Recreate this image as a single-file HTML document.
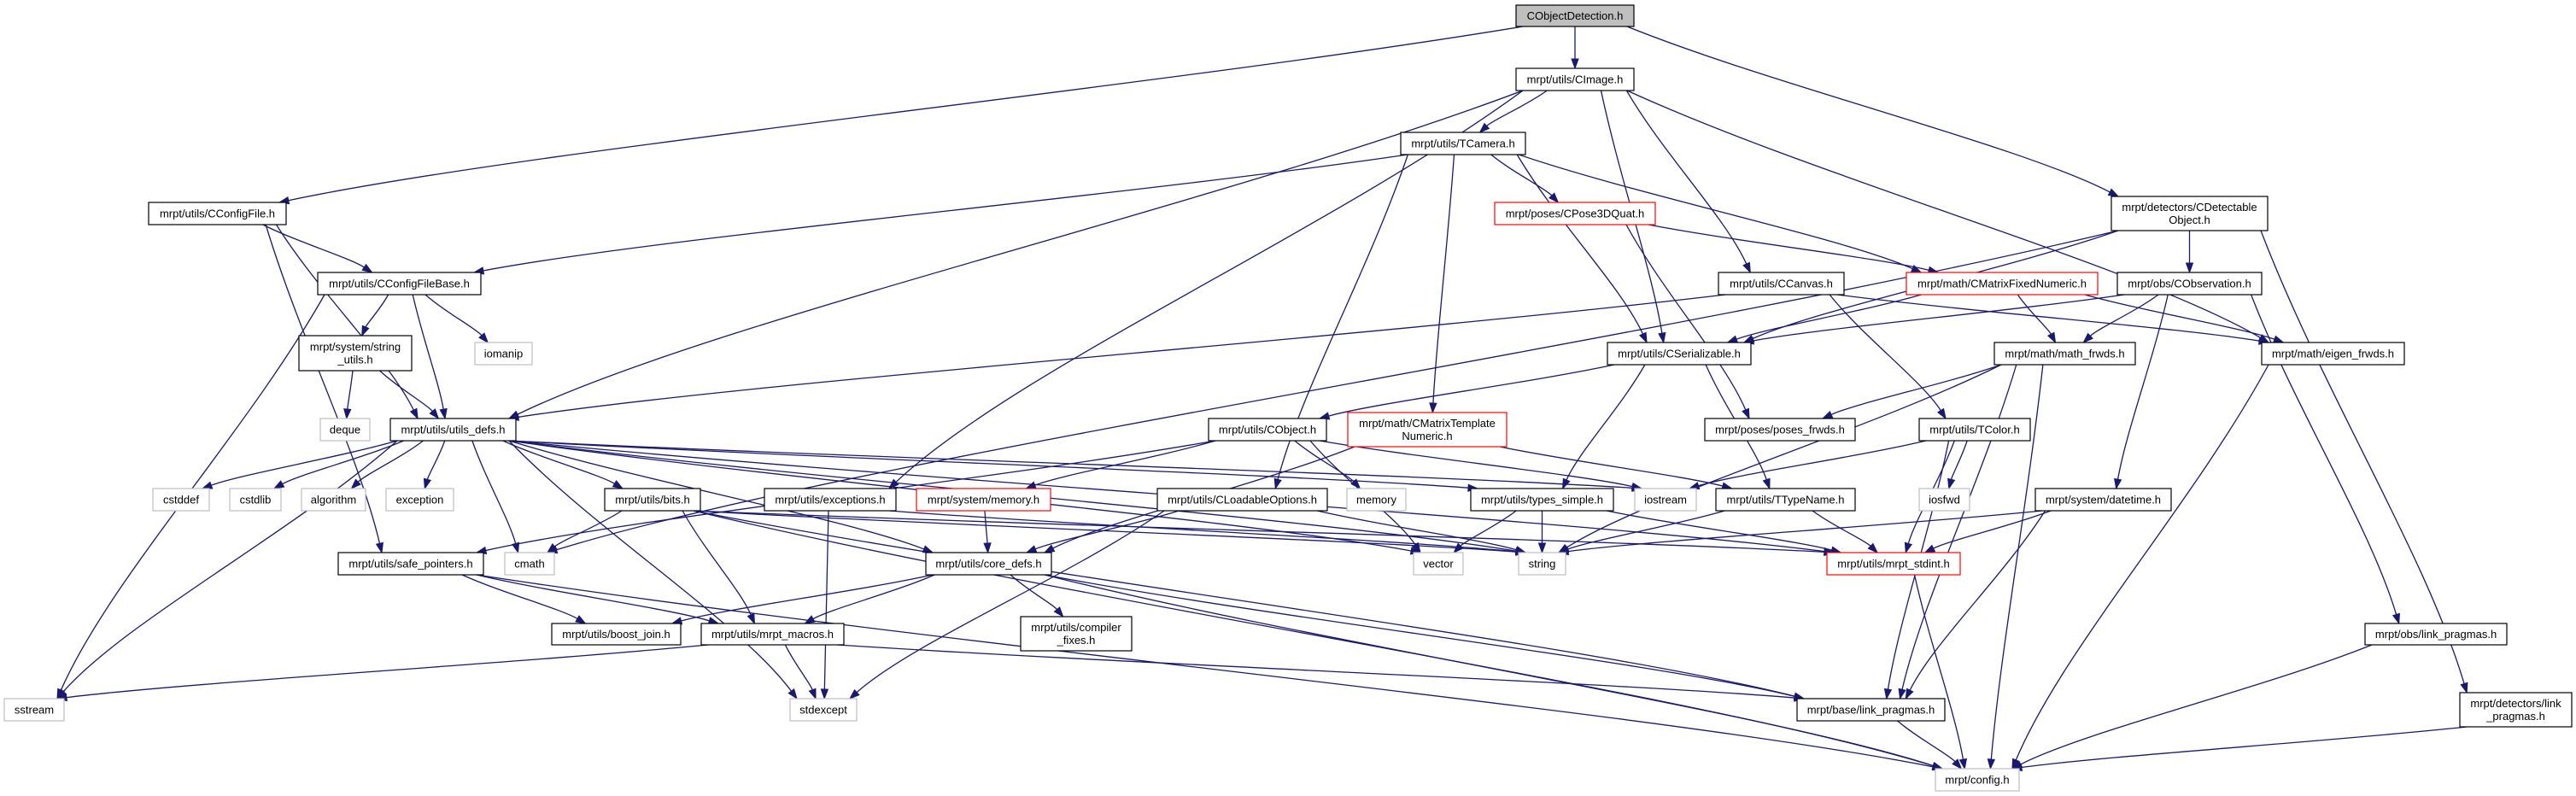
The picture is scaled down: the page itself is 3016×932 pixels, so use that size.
<!DOCTYPE html>
<html><head><meta charset="utf-8"><style>
html,body{margin:0;padding:0;background:#fff;}
svg{display:block;}
text{font-family:"Liberation Sans",Arial,sans-serif;font-size:13px;fill:#000;}
</style></head><body>
<svg id="g" width="3016" height="932" xmlns="http://www.w3.org/2000/svg"></svg>
<script>
var N={
 OD:[1775,6,1913,31,["CObjectDetection.h"],"top"],
 CI:[1775,80,1913,106,["mrpt/utils/CImage.h"]],
 TC:[1640,155,1786,181,["mrpt/utils/TCamera.h"]],
 CF:[174,237,335,263,["mrpt/utils/CConfigFile.h"]],
 PQ:[1750,237,1938,263,["mrpt/poses/CPose3DQuat.h"],"red"],
 DO:[2472,230,2655,270,["mrpt/detectors/CDetectable","Object.h"]],
 CB:[372,319,563,345,["mrpt/utils/CConfigFileBase.h"]],
 CC:[2012,319,2159,345,["mrpt/utils/CCanvas.h"]],
 MF:[2232,319,2456,345,["mrpt/math/CMatrixFixedNumeric.h"],"red"],
 OB:[2479,319,2648,345,["mrpt/obs/CObservation.h"]],
 SU:[350,393,482,434,["mrpt/system/string","_utils.h"]],
 IM:[556,401,623,427,["iomanip"],"gray"],
 CS:[1882,401,2050,427,["mrpt/utils/CSerializable.h"]],
 MW:[2335,401,2500,427,["mrpt/math/math_frwds.h"]],
 EF:[2648,401,2815,427,["mrpt/math/eigen_frwds.h"]],
 DQ:[375,490,433,516,["deque"],"gray"],
 UD:[457,490,604,516,["mrpt/utils/utils_defs.h"]],
 CO:[1415,490,1553,516,["mrpt/utils/CObject.h"]],
 MT:[1578,483,1764,523,["mrpt/math/CMatrixTemplate","Numeric.h"],"red"],
 PF:[1996,490,2172,516,["mrpt/poses/poses_frwds.h"]],
 TO:[2247,490,2377,516,["mrpt/utils/TColor.h"]],
 SD:[179,572,245,598,["cstddef"],"gray"],
 SL:[269,572,329,598,["cstdlib"],"gray"],
 AL:[353,572,428,598,["algorithm"],"gray"],
 EX:[452,572,531,598,["exception"],"gray"],
 BI:[708,572,820,598,["mrpt/utils/bits.h"]],
 EH:[895,572,1049,598,["mrpt/utils/exceptions.h"]],
 MM:[1073,572,1230,598,["mrpt/system/memory.h"],"red"],
 LO:[1355,572,1554,598,["mrpt/utils/CLoadableOptions.h"]],
 ME:[1577,572,1646,598,["memory"],"gray"],
 TS:[1722,572,1889,598,["mrpt/utils/types_simple.h"]],
 IS:[1914,572,1986,598,["iostream"],"gray"],
 TT:[2009,572,2172,598,["mrpt/utils/TTypeName.h"]],
 IF:[2247,572,2306,598,["iosfwd"],"gray"],
 DT:[2383,572,2542,598,["mrpt/system/datetime.h"]],
 SP:[396,647,566,673,["mrpt/utils/safe_pointers.h"]],
 CM:[591,647,649,673,["cmath"],"gray"],
 CD:[1084,647,1231,673,["mrpt/utils/core_defs.h"]],
 VE:[1655,647,1713,673,["vector"],"gray"],
 ST:[1778,647,1833,673,["string"],"gray"],
 SI:[2139,647,2295,673,["mrpt/utils/mrpt_stdint.h"],"red"],
 BJ:[646,730,797,755,["mrpt/utils/boost_join.h"]],
 MA:[821,730,988,755,["mrpt/utils/mrpt_macros.h"]],
 CX:[1195,722,1325,762,["mrpt/utils/compiler","_fixes.h"]],
 OL:[2769,730,2935,755,["mrpt/obs/link_pragmas.h"]],
 SS:[5,818,75,844,["sstream"],"gray"],
 SE:[925,818,1003,844,["stdexcept"],"gray"],
 BL:[2104,818,2277,844,["mrpt/base/link_pragmas.h"]],
 DL:[2880,811,3011,851,["mrpt/detectors/link","_pragmas.h"]],
 CG:[2266,900,2364,926,["mrpt/config.h"],"gray"]
};
var E="OD-CF OD-CI OD-DO CI-TC CI-CS CI-CC CI-EF CI-UD CI-EH CF-CB CF-UD CF-SP CB-SU CB-IM CB-UD CB-SS SU-DQ SU-UD TC-CB TC-PQ TC-CS TC-MF TC-MT TC-LO PQ-MF PQ-PF DO-CS DO-OB DO-CM DO-DL CC-UD CC-TO CC-EF MF-CS MF-MW MF-EF OB-CS OB-MW OB-DT OB-OL CS-CO CS-TS CS-TT MW-PF MW-ST MW-BL MW-CG EF-CG UD-SD UD-SL UD-AL UD-EX UD-CM UD-BI UD-SS UD-SE UD-CD UD-TS UD-IS UD-SI UD-VE UD-ST CO-MM CO-ME CO-VE CO-SP CO-IS MT-CD MT-TT MM-CD LO-CD LO-ST LO-SE EH-ST EH-SE BI-CM BI-MA BI-CG BI-ST BI-SI BI-BL SP-BJ SP-MA SP-CG CD-BJ CD-MA CD-CX CD-BL CD-CG MA-SS MA-SE MA-BL TS-VE TS-ST TS-SI TT-ST TT-SI TO-IF TO-SI TO-IS TO-BL DT-ST DT-SI DT-BL SI-CG BL-CG OL-CG DL-CG".split(" ");
var s="";
function cl(v,a,b){return Math.max(a,Math.min(b,v));}
E.forEach(function(e){
 var p=e.split("-"),a=N[p[0]],b=N[p[1]];
 var acx=(a[0]+a[2])/2,bcx=(b[0]+b[2])/2,acy=(a[1]+a[3])/2,bcy=(b[1]+b[3])/2;
 var x1,y1,x2,y2,c1x,c1y,c2x,c2y;
 if(b[1]>a[3]+5){
  x1=cl(acx+(bcx-acx)*0.25,a[0]+8,a[2]-8);y1=a[3];
  x2=cl(bcx-(bcx-acx)*0.15,b[0]+8,b[2]-8);y2=b[1];
  var dy=(y2-y1);
  c1x=x1+(x2-x1)*0.3;c1y=y1+dy*0.35;c2x=x2-(x2-x1)*0.2;c2y=y2-dy*0.3;
 }else if(b[3]<a[1]-5){
  x1=acx;y1=a[1];x2=bcx;y2=b[3];
  c1x=x1;c1y=y1-20;c2x=x2;c2y=y2+20;
 }else{
  if(bcx>acx){x1=a[2];x2=b[0];}else{x1=a[0];x2=b[2];}
  y1=acy;y2=bcy;c1x=(x1+x2)/2;c1y=y1;c2x=(x1+x2)/2;c2y=y2;
 }
 var dx=x2-c2x,dy2=y2-c2y,L=Math.sqrt(dx*dx+dy2*dy2)||1;dx/=L;dy2/=L;
 var ex=x2-dx*11,ey=y2-dy2*11;
 s+='<path d="M'+x1+','+y1+' C'+c1x+','+c1y+' '+c2x+','+c2y+' '+ex+','+ey+'" fill="none" stroke="#191970" stroke-width="1.3"/>';
 var px=-dy2,py=dx;
 s+='<polygon points="'+x2+','+y2+' '+(ex+px*4)+','+(ey+py*4)+' '+(ex-px*4)+','+(ey-py*4)+'" fill="#191970" stroke="#191970"/>';
});
for(var k in N){
 var n=N[k],st="#000",fill="#fff";
 if(n[5]=="gray")st="#bfbfbf";
 if(n[5]=="red")st="#ff0000";
 if(n[5]=="top")fill="#bfbfbf";
 s+='<rect x="'+n[0]+'" y="'+n[1]+'" width="'+(n[2]-n[0])+'" height="'+(n[3]-n[1])+'" fill="'+fill+'" stroke="'+st+'" stroke-width="1.2"/>';
 var cx=(n[0]+n[2])/2,lines=n[4];
 if(lines.length==1){s+='<text x="'+cx+'" y="'+((n[1]+n[3])/2+4.5)+'" text-anchor="middle">'+lines[0]+'</text>';}
 else{var cy=(n[1]+n[3])/2;s+='<text x="'+cx+'" y="'+(cy-3)+'" text-anchor="middle">'+lines[0]+'</text><text x="'+cx+'" y="'+(cy+12)+'" text-anchor="middle">'+lines[1]+'</text>';}
}
document.getElementById("g").innerHTML=s;
</script>
</body></html>
